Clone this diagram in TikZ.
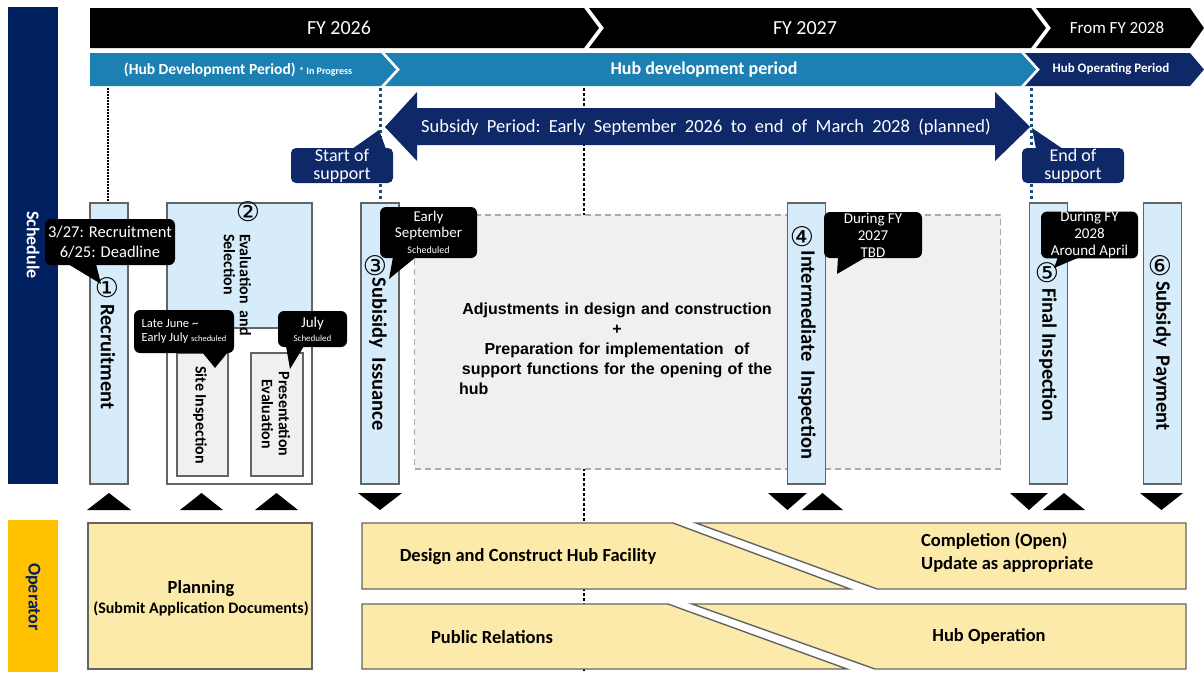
\documentclass[tikz,border=0pt]{standalone}
\usepackage{fontspec}
\setmainfont{Carlito}
\newfontfamily\arialfont{Liberation Sans}
\newfontfamily\symfont{DejaVu Sans}
\newcommand\sz[2]{\fontsize{#1}{#2}\selectfont}

\definecolor{navy}{RGB}{14,40,104}
\definecolor{schednavy}{RGB}{0,32,96}
\definecolor{hubblue}{RGB}{28,128,178}
\definecolor{boxblue}{RGB}{214,236,250}
\definecolor{boxline}{RGB}{100,100,100}
\definecolor{graybox}{RGB}{240,240,240}
\definecolor{dashgray}{RGB}{170,170,170}
\definecolor{sand}{RGB}{252,234,170}
\definecolor{gold}{RGB}{255,192,0}
\definecolor{tealdot}{RGB}{30,80,120}

\begin{document}
\begin{tikzpicture}[x=1pt,y=-1pt,
  vbox/.style={draw=boxline, line width=1.4pt, fill=boxblue, minimum width=38pt, minimum height=281pt, inner sep=0pt},
  vlabel/.style={rotate=-90, font=\bfseries\sz{20.5}{24}, inner sep=0pt},
  numlabel/.style={font=\symfont\sz{27}{27}, inner sep=0pt},
  subbox/.style={draw=boxline, line width=1.4pt, fill=graybox, inner sep=0pt},
  bubble/.style={fill=black, rounded corners=6pt, text=white, inner sep=0pt, align=center},
  supportbox/.style={fill=navy, rounded corners=5pt, text=white, align=center, inner sep=0pt, font=\sz{18}{18}, minimum width=102pt, minimum height=35pt},
  sandshape/.style={fill=sand, draw=boxline, line width=1.4pt},
  sandtext/.style={font=\bfseries\sz{18.5}{23}, inner sep=0pt},
  fyrow/.style={fill=black},
  dotfine/.style={black, line width=1.8pt, dash pattern=on 1.5pt off 1.5pt},
  dotteal/.style={tealdot, line width=3pt, dash pattern=on 3pt off 3pt},
  dotbig/.style={black, line width=2.5pt, dash pattern=on 2.5pt off 2.5pt},
  marker/.style={fill=black}
]
\useasboundingbox (0,0) rectangle (1204,672);

% side bands
\fill[schednavy] (8,7) rectangle (58,484);
\node[rotate=-90, text=white, font=\bfseries\sz{18}{18}] (schedlabel) at (33,245) {Schedule};
\fill[gold] (8,520) rectangle (58,672);
\node[rotate=-90, text=schednavy, font=\bfseries\sz{18}{18}] (oplabel) at (33,597) {Operator};

% fiscal year chevrons
\fill[fyrow] (90,8) -- (584,8) -- (599,28) -- (584,48) -- (90,48) -- cycle;
\fill[fyrow] (589,8) -- (1031,8) -- (1046,28) -- (1031,48) -- (589,48) -- (604,28) -- cycle;
\fill[fyrow] (1036,8) -- (1190,8) -- (1204,28) -- (1190,48) -- (1036,48) -- (1051,28) -- cycle;
\node[text=white, font=\sz{20}{20}] (fy26) at (339,28) {FY 2026};
\node[text=white, font=\sz{20}{20}] (fy27) at (805,28) {FY 2027};
\node[text=white, font=\sz{17}{17}] (fy28) at (1117,28) {From FY 2028};

% period chevrons
\fill[hubblue] (90,53) -- (381,53) -- (396,69.5) -- (381,86) -- (90,86) -- cycle;
\fill[hubblue] (385,53) -- (1021,53) -- (1036,69.5) -- (1021,86) -- (385,86) -- (400,69.5) -- cycle;
\fill[navy] (1025,53) -- (1190,53) -- (1204,69.5) -- (1190,86) -- (1025,86) -- (1040,69.5) -- cycle;
\node[text=white, font=\bfseries\sz{15.5}{16}] (p1) at (238,70) {(Hub Development Period) {\sz{10}{10}* In Progress}};
\node[text=white, font=\bfseries\sz{18}{18}] (p2) at (704,70) {Hub development period};
\node[text=white, font=\bfseries\sz{13}{13}] (p3) at (1111,69.5) {Hub Operating Period};

% guide lines
\draw[dotbig] (584,88) -- (584,672);
\draw[dotfine] (108,88) -- (108,203);
\draw[dotteal] (380,88) -- (380,203);
\draw[dotteal] (1031,88) -- (1031,203);

% subsidy period arrow
\fill[navy] (385,127) -- (417,92) -- (417,108) -- (995,108) -- (995,92) -- (1030,127)
  -- (995,161) -- (995,145) -- (417,145) -- (417,161) -- cycle;
\node[text=white, font=\sz{18.5}{18.5}] (subsidy) at (706,127)
  {Subsidy\ \ Period:\ \ Early\ \ September\ \ 2026\ \ to\ \ end\ \ of\ \ March\ \ 2028\ \ (planned)};

% start / end of support
\fill[navy] (352,149) -- (379,130) -- (386,149) -- cycle;
\node[supportbox] (sos) at (342,165.5) {Start of\\support};
\fill[navy] (1036,149) -- (1032,128) -- (1063,149) -- cycle;
\node[supportbox] (eos) at (1073,165.5) {End of\\support};

% work area
\node[draw=dashgray, fill=graybox, line width=1.2pt, dash pattern=on 6pt off 4pt,
  minimum width=586pt, minimum height=254pt, inner sep=0pt] (work) at (707.5,342) {};
\node[anchor=north, inner sep=0pt, text width=316pt, align=center,
  font=\arialfont\bfseries\sz{16}{20}] (worktext) at (617,302.5)
  {Adjustments in design and construction\\+\\Preparation for implementation\ \ of\\support functions for the opening of the\\\makebox[316pt][l]{hub}};

% schedule steps
\node[vbox] (b1) at (109,343.5) {};
\node[numlabel] (n1) at (107,288) {①};
\node[vlabel] (t1) at (108,357) {Recruitment};

\node[draw=boxline, line width=1.4pt, fill=white, minimum width=145pt, minimum height=281pt, inner sep=0pt] (b2) at (239.5,343.5) {};
\node[draw=boxline, line width=1.4pt, fill=boxblue, minimum width=145pt, minimum height=125pt, inner sep=0pt] (b2top) at (239.5,265.5) {};
\node[numlabel] (n2) at (248,212) {②};
\node[rotate=-90, anchor=west, align=left, inner sep=0pt, font=\bfseries\sz{16}{16}] (t2) at (237.5,234) {Evaluation\ \ and\\Selection};
\node[subbox, minimum width=51pt, minimum height=123pt] (site) at (202.5,414.5) {};
\node[rotate=-90, inner sep=0pt, font=\bfseries\sz{16}{17}] (sitet) at (200,415) {Site Inspection};
\node[subbox, minimum width=52pt, minimum height=123pt] (pres) at (277,414.5) {};
\node[rotate=-90, inner sep=0pt, align=center, font=\bfseries\sz{16}{17}] (prest) at (276,414) {Presentation\\Evaluation};

\node[vbox] (b3) at (380,343.5) {};
\node[numlabel] (n3) at (375,266) {③};
\node[vlabel] (t3) at (378,354) {Subisidy\ \ Issuance};

\node[vbox] (b4) at (806.5,343.5) {};
\node[numlabel] (n4) at (802,237) {④};
\node[vlabel] (t4) at (807,355) {Intermediate\ \ Inspection};

\node[vbox] (b5) at (1048.5,343.5) {};
\node[numlabel] (n5) at (1047,273) {⑤};
\node[vlabel] (t5) at (1048,355) {Final Inspection};

\node[vbox] (b6) at (1162.5,343.5) {};
\node[numlabel] (n6) at (1160,266) {⑥};
\node[vlabel] (t6) at (1162,356) {Subsidy\ \ Payment};

% date callouts
\fill (68,264) -- (101,284) -- (96,264) -- cycle;
\node[bubble, minimum width=130pt, minimum height=46pt, font=\sz{16.5}{20}] (c1) at (110,242) {3/27: Recruitment\\6/25: Deadline};
\fill (202,352) -- (215,368) -- (228,352) -- cycle;
\node[bubble, minimum width=100pt, minimum height=43pt, align=left, font=\sz{12.5}{13.5}] (c2) at (184,331.5) {Late June \textasciitilde\\Early July {\sz{8.5}{13}scheduled}};
\fill (286,346) -- (290,369) -- (304,346) -- cycle;
\node[bubble, minimum width=69pt, minimum height=36pt, font=\sz{15}{14}] (c3) at (312.5,329) {July\\{\sz{9}{12}Scheduled}};
\fill (393,257) -- (389,279) -- (416,257) -- cycle;
\node[bubble, minimum width=97pt, minimum height=51pt, font=\sz{15}{16}] (c4) at (428.5,232.5) {Early\\September\\{\sz{10}{12}Scheduled}};
\fill (838,257) -- (837,274) -- (866,257) -- cycle;
\node[bubble, minimum width=98pt, minimum height=46pt, font=\sz{15}{17}] (c5) at (873,235) {During FY\\2027\\TBD};
\fill (1058,257) -- (1054,268) -- (1080,257) -- cycle;
\node[bubble, minimum width=97pt, minimum height=44pt, font=\sz{15}{17}] (c6) at (1089.5,235) {During FY\\2028\\Around April};

% hand-over markers
\fill[marker] (87,510) -- (109,493) -- (131,510) -- cycle;
\fill[marker] (180,510) -- (201.5,493) -- (223,510) -- cycle;
\fill[marker] (255,510) -- (276.5,493) -- (298,510) -- cycle;
\fill[marker] (358,493) -- (380,510) -- (402,493) -- cycle;
\fill[marker] (768,493) -- (787.5,510) -- (807,493) -- cycle;
\fill[marker] (802,510) -- (822.5,493) -- (843,510) -- cycle;
\fill[marker] (1010,493) -- (1029,510) -- (1048,493) -- cycle;
\fill[marker] (1043,510) -- (1064,493) -- (1085,510) -- cycle;
\fill[marker] (1140,493) -- (1161.5,510) -- (1183,493) -- cycle;

% operator activities
\node[sandshape, minimum width=224pt, minimum height=146pt, inner sep=0pt] (plan) at (200,596) {};
\node[align=center, inner sep=0pt, font=\bfseries\sz{18.5}{20}] (plant) at (201,598) {Planning\\{\sz{16}{20}(Submit Application Documents)}};

\path[sandshape] (362,523) -- (673,523) -- (850,589) -- (362,589) -- cycle;
\path[sandshape] (696,523) -- (1186,523) -- (1186,589) -- (877,589) -- cycle;
\node[sandtext] (design) at (528,557) {Design and Construct Hub Facility};
\node[sandtext, anchor=west, align=left, font=\bfseries\sz{18.5}{23}] (done) at (921,553) {Completion (Open)\\Update as appropriate};

\path[sandshape] (362,604) -- (668,604) -- (847,669) -- (362,669) -- cycle;
\path[sandshape] (692,604) -- (1186,604) -- (1186,669) -- (875,669) -- cycle;
\node[sandtext] (pr) at (492,637) {Public Relations};
\node[sandtext] (hubop) at (989,636) {Hub Operation};
\end{tikzpicture}
\end{document}
